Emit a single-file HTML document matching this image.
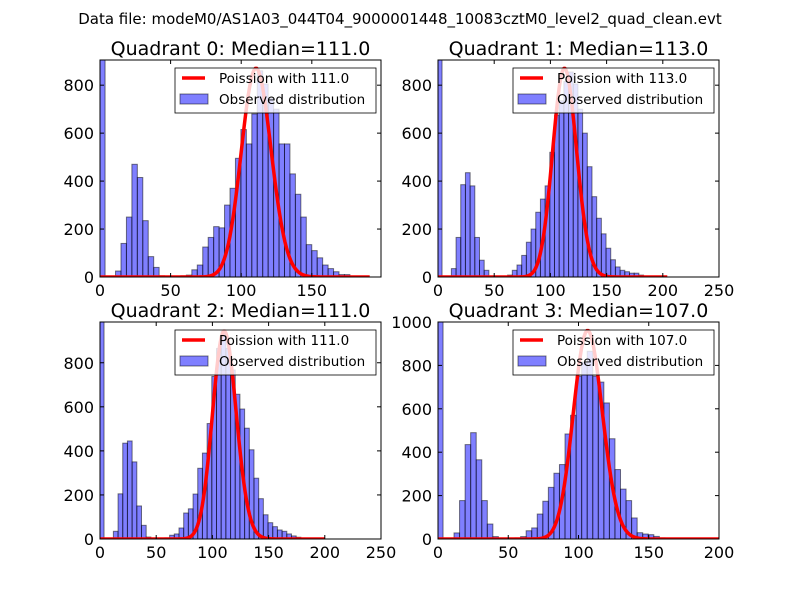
<!DOCTYPE html>
<html><head><meta charset="utf-8"><style>
body{margin:0;background:#fff;}
svg{display:block;font-family:"DejaVu Sans","Liberation Sans",sans-serif;}
</style></head><body>
<svg id="fig" width="800" height="600" viewBox="0 0 800 600">
<rect width="800" height="600" fill="#fff"/>
<text x="400" y="24" text-anchor="middle" font-size="15">Data file: modeM0/AS1A03_044T04_9000001448_10083cztM0_level2_quad_clean.evt</text>
</svg>
<script>
const titles = ["Quadrant 0: Median=111.0","Quadrant 1: Median=113.0","Quadrant 2: Median=111.0","Quadrant 3: Median=107.0"];
const legendLabels = ["Poission with 111.0","Poission with 113.0","Poission with 111.0","Poission with 107.0"];
const medians = [111,113,111,107];
const curvePeaks = [870,870,943,960];
const curveEnds = [191,204,200,200];
const xMaxes = [199,250,250,200];
const yMaxes = [905,905,985,1000];
const xTickVals = [[0,50,100,150],[0,50,100,150,200,250],[0,50,100,150,200,250],[0,50,100,150,200]];
const yTickVals = [[0,200,400,600,800],[0,200,400,600,800],[0,200,400,600,800],[0,200,400,600,800,1000]];
const binStarts = [11,11.9,11.9,11.4];
const binWidths = [3.86,4.17,4.17,3.95];
const zeroBinWidths = [3.6,3.6,3.6,3.6];
const zeroCounts = [5000,5000,5000,5000];
const counts0 = [25,140,250,470,415,235,85,40,5,2,0,3,5,8,30,50,125,165,210,205,300,370,495,615,555,680,860,805,745,700,555,555,430,345,250,135,110,80,50,35,22,10,10];
const counts1 = [35,165,385,435,380,165,70,28,2,2,2,3,8,28,50,90,145,200,270,325,380,520,675,735,815,855,805,700,600,460,335,245,180,120,72,42,28,22,16,16,8];
const counts2 = [35,205,435,445,350,150,62,9,3,2,2,5,17,23,50,118,137,204,321,390,524,738,865,943,865,767,657,590,503,405,276,183,110,74,56,41,35,23,14,8];
const counts3 = [28,177,435,490,365,177,69,11,3,2,3,5,11,38,51,115,174,238,303,343,484,570,750,815,865,750,723,627,462,320,230,177,97,29,23,20,12,5];
const allCounts = [counts0,counts1,counts2,counts3];

const boxes = [{x:100,y:60,w:281,h:217},{x:438,y:60,w:281,h:217},{x:100,y:322,w:281,h:217},{x:438,y:322,w:281,h:217}];
const NS="http://www.w3.org/2000/svg";
const svg=document.getElementById('fig');
function mk(tag,attrs,parent){const e=document.createElementNS(NS,tag);for(const k in attrs)e.setAttribute(k,attrs[k]);(parent||svg).appendChild(e);return e;}
function lgamma(n){
  if(n<2) return 0;
  return n*Math.log(n)-n+0.5*Math.log(2*Math.PI*n)+1/(12*n)-1/(360*n*n*n);
}
for(let q=0;q<4;q++){
  const b=boxes[q];
  const g=mk('g',{});
  
  
  const X=v=>b.x+v/xMaxes[q]*b.w;
  const Y=v=>b.y+b.h-v/yMaxes[q]*b.h;
  const cid='clip'+q;
  const cp=mk('clipPath',{id:cid},g);mk('rect',{x:b.x,y:b.y,width:b.w,height:b.h},cp);
  const plot=mk('g',{'clip-path':'url(#'+cid+')'},g);
  const zb=mk('rect',{x:X(0),y:Y(zeroCounts[q]),width:X(zeroBinWidths[q])-X(0),height:Y(0)-Y(zeroCounts[q]),fill:'rgba(0,0,255,0.5)',stroke:'rgba(0,0,0,0.5)','stroke-width':1},plot);
  
  
  const c=allCounts[q];
  for(let i=0;i<c.length;i++){
    const x0=binStarts[q]+i*binWidths[q],x1=x0+binWidths[q];
    const r=mk('rect',{x:X(x0),y:Y(c[i]),width:X(x1)-X(x0),height:Y(0)-Y(c[i]),fill:'rgba(0,0,255,0.5)',stroke:'rgba(0,0,0,0.5)','stroke-width':1},plot);
    
    
  }
  let pts=[];
  const mu=medians[q];
  const pk=Math.exp(mu*Math.log(mu)-mu-lgamma(Math.round(mu)));
  for(let k=0;k<=curveEnds[q];k++){
    const v=k===0?Math.exp(-mu):Math.exp(k*Math.log(mu)-mu-lgamma(k));
    pts.push(X(k).toFixed(2)+','+Y(v/pk*curvePeaks[q]).toFixed(2));
  }
  const line=mk('polyline',{points:pts.join(' '),fill:'none',stroke:'#ff0000','stroke-width':3.5,'stroke-linejoin':'round'},plot);
  
  
  mk('rect',{x:b.x,y:b.y,width:b.w,height:b.h,fill:'none',stroke:'#000','stroke-width':1},g);
  xTickVals[q].forEach(v=>{
    const x=X(v);
    mk('line',{x1:x,x2:x,y1:b.y+b.h,y2:b.y+b.h-4,stroke:'#000'},g);
    mk('line',{x1:x,x2:x,y1:b.y,y2:b.y+4,stroke:'#000'},g);
    const t=mk('text',{x:x,y:b.y+b.h+19,'text-anchor':'middle','font-size':16},g);t.textContent=v;
    
    
  });
  yTickVals[q].forEach(v=>{
    const y=Y(v);
    mk('line',{x1:b.x,x2:b.x+4,y1:y,y2:y,stroke:'#000'},g);
    mk('line',{x1:b.x+b.w,x2:b.x+b.w-4,y1:y,y2:y,stroke:'#000'},g);
    const t=mk('text',{x:b.x-6,y:y+6,'text-anchor':'end','font-size':16},g);t.textContent=v;
    
    
  });
  const tt=mk('text',{x:b.x+b.w/2,y:b.y-5,'text-anchor':'middle','font-size':19},g);tt.textContent=titles[q];
  
  
  const lg=mk('g',{},g);
  
  
  const lx=b.x+75,ly=b.y+8;
  mk('rect',{x:lx,y:ly,width:201,height:45,fill:'rgba(255,255,255,0.8)',stroke:'#000','stroke-width':0.8},lg);
  mk('line',{x1:lx+7,x2:lx+30,y1:ly+10,y2:ly+10,stroke:'#ff0000','stroke-width':3.5},lg);
  const t1=mk('text',{x:lx+44,y:ly+15,'font-size':13.5},lg);t1.textContent=legendLabels[q];
  
  
  mk('rect',{x:lx+5,y:ly+26,width:28,height:10,fill:'rgba(0,0,255,0.5)',stroke:'rgba(0,0,0,0.5)'},lg);
  const t2=mk('text',{x:lx+44,y:ly+36,'font-size':13.5},lg);t2.textContent='Observed distribution';
  
  
}
</script>
</body></html>
